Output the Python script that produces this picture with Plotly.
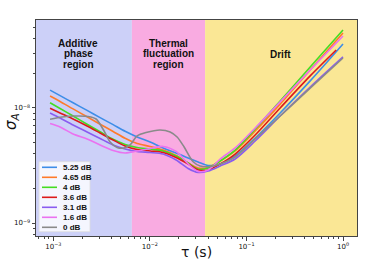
import numpy as np
import plotly.graph_objects as go

# ---------------- data ----------------
tau = [9.24e-4, 1.173e-3, 1.600e-3, 2.234e-3, 3.048e-3, 4.157e-3, 5.534e-3, 7.370e-3,
       1.005e-2, 1.370e-2, 1.868e-2, 2.488e-2, 3.159e-2, 4.009e-2, 5.339e-2, 7.635e-2,
       0.1231, 0.2234, 0.4571, 1.0]
tau_red = tau[:-1] + [0.85]
tau_gray = [9.24e-4, 1.231e-3, 1.686e-3, 2.288e-3, 2.770e-3, 3.352e-3, 3.869e-3, 4.572e-3,
            5.401e-3, 6.234e-3, 7.370e-3, 9.134e-3, 1.275e-2, 1.620e-2, 1.913e-2, 2.262e-2,
            2.804e-2, 3.313e-2, 4.205e-2, 5.339e-2, 7.635e-2, 0.1231, 0.2234, 0.4571, 1.0]

sig_525 = [1.43e-8, 1.28e-8, 1.11e-8, 9.53e-9, 8.25e-9, 7.16e-9, 6.27e-9, 5.60e-9,
           5.06e-9, 4.49e-9, 4.06e-9, 3.67e-9, 3.39e-9, 3.16e-9, 3.26e-9, 3.83e-9,
           5.48e-9, 9.05e-9, 1.72e-8, 3.60e-8]
sig_465 = [1.27e-8, 1.14e-8, 9.82e-9, 8.39e-9, 7.23e-9, 6.25e-9, 5.45e-9, 4.91e-9,
           4.63e-9, 4.31e-9, 3.86e-9, 3.32e-9, 3.01e-9, 3.04e-9, 3.46e-9, 4.23e-9,
           6.31e-9, 1.08e-8, 2.14e-8, 4.49e-8]
sig_4 = [1.11e-8, 9.90e-9, 8.52e-9, 7.23e-9, 6.21e-9, 5.34e-9, 4.82e-9, 4.54e-9,
         4.40e-9, 4.23e-9, 3.83e-9, 3.32e-9, 2.95e-9, 3.01e-9, 3.46e-9, 4.31e-9,
         6.57e-9, 1.15e-8, 2.27e-8, 4.77e-8]
sig_36 = [9.94e-9, 9.05e-9, 8.02e-9, 6.97e-9, 6.06e-9, 5.27e-9, 4.67e-9, 4.36e-9,
          4.23e-9, 4.10e-9, 3.71e-9, 3.26e-9, 2.89e-9, 2.89e-9, 3.26e-9, 3.98e-9,
          5.82e-9, 1.00e-8, 1.90e-8, 3.19e-8]
sig_31 = [9.05e-9, 8.18e-9, 7.12e-9, 6.19e-9, 5.43e-9, 4.77e-9, 4.40e-9, 4.19e-9,
          4.10e-9, 3.98e-9, 3.53e-9, 2.98e-9, 2.75e-9, 2.83e-9, 3.13e-9, 3.60e-9,
          5.16e-9, 8.52e-9, 1.52e-8, 2.78e-8]
sig_16 = [7.33e-9, 6.84e-9, 5.94e-9, 5.38e-9, 4.77e-9, 4.27e-9, 4.06e-9, 4.23e-9,
          4.44e-9, 4.63e-9, 4.19e-9, 3.26e-9, 2.81e-9, 2.89e-9, 3.60e-9, 4.49e-9,
          6.70e-9, 1.13e-8, 2.14e-8, 4.23e-8]
sig_0 = [7.98e-9, 8.35e-9, 8.52e-9, 8.44e-9, 8.02e-9, 6.31e-9, 5.06e-9, 4.54e-9,
         4.49e-9, 4.77e-9, 5.71e-9, 6.12e-9, 6.44e-9, 6.19e-9, 5.60e-9, 4.58e-9,
         3.41e-9, 3.13e-9, 3.10e-9, 3.26e-9, 3.75e-9, 5.38e-9, 8.52e-9, 1.49e-8, 2.72e-8]

labels = ["5.25 dB", "4.65 dB", "4 dB", "3.6 dB", "3.1 dB", "1.6 dB", "0 dB"]
colors = ["#3d8de8", "#ff7a2a", "#44dd22", "#dd1a1a", "#8a5cf0", "#ea72f0", "#8a8a8a"]
series_x = [tau, tau, tau, tau_red, tau, tau, tau_gray]
series_y = [sig_525, sig_465, sig_4, sig_36, sig_31, sig_16, sig_0]

# region boundaries (s)
region_edges = [10 ** -3.18, 0.0065, 0.0373, 10 ** 0.145]
region_colors = ["#ccd0f8", "#f9abe1", "#fae795"]
region_labels = [["Additive", "phase", "region"], ["Thermal", "fluctuation", "region"], ["Drift"]]
region_label_x = [0.0018, 0.01545, 0.224]

x_ticks = [1e-3, 1e-2, 1e-1, 1e0]
x_ticktext = ["10<sup>−3</sup>", "10<sup>−2</sup>", "10<sup>−1</sup>", "10<sup>0</sup>"]
y_ticks = [1e-9, 1e-8]
y_ticktext = ["10<sup>−9</sup>", "10<sup>−8</sup>"]

# ---------------- figure ----------------
fig = go.Figure()
for xs, ys, lab, col in zip(series_x, series_y, labels, colors):
    fig.add_trace(go.Scatter(x=xs, y=ys, mode="lines", name=lab,
                             line=dict(color=col, width=1.6, shape="spline", smoothing=0.8),
                             showlegend=False))

shapes = []
for i in range(3):
    shapes.append(dict(type="rect", xref="x", yref="paper", x0=region_edges[i], x1=region_edges[i + 1],
                       y0=0, y1=1, fillcolor=region_colors[i], line=dict(width=0), layer="below"))

annotations = []
FONT = "Liberation Sans, Arial, sans-serif"
line_y = [0.8935, 0.8426, 0.7917]
for lines, xc in zip(region_labels, region_label_x):
    ys = [0.838] if len(lines) == 1 else line_y
    for t, yy in zip(lines, ys):
        annotations.append(dict(x=np.log10(xc), y=yy, xref="x", yref="paper", text="<b>%s</b>" % t,
                                showarrow=False, font=dict(family=FONT, size=10, color="#111"),
                                xanchor="center", yanchor="middle"))

# compact legend box (paper coordinates)
W, H, L, T = 321.0, 216.0, 36.0, 20.0
def px(x): return (x - L) / W
def py(y): return (H + T - y) / H
shapes.append(dict(type="rect", xref="paper", yref="paper", x0=px(39), x1=px(90), y0=py(231.7), y1=py(161.7),
                   fillcolor="rgba(255,255,255,0.8)", line=dict(color="#dddddd", width=0.8)))
for i, (lab, col) in enumerate(zip(labels, colors)):
    yy = py(167.3 + 10 * i)
    shapes.append(dict(type="line", xref="paper", yref="paper", x0=px(42), x1=px(57), y0=yy, y1=yy,
                       line=dict(color=col, width=1.6)))
    annotations.append(dict(x=px(61), y=yy, xref="paper", yref="paper", text="<b>%s</b>" % lab,
                            showarrow=False, xanchor="left", yanchor="middle",
                            font=dict(family=FONT, size=8, color="#111")))

# axis titles as annotations so the plot area stays fixed
annotations.append(dict(x=px(196), y=py(252), xref="paper", yref="paper", text="τ (s)", showarrow=False,
                        xanchor="center", yanchor="middle",
                        font=dict(size=14, family="DejaVu Sans", color="#111")))
annotations.append(dict(x=px(11), y=py(122), xref="paper", yref="paper", text="<i>σ<sub>A</sub></i>",
                        showarrow=False, textangle=-90, xanchor="center", yanchor="middle",
                        font=dict(size=15, family="DejaVu Sans", color="#111")))

minor_y = [m * 10.0 ** e for e in (-10, -9, -8) for m in range(2, 10)]
minor_x = [m * 10.0 ** e for e in (-4, -3, -2, -1, 0) for m in range(2, 10)]

fig.update_layout(
    width=382, height=268,
    margin=dict(l=36, r=25, t=20, b=32, autoexpand=False),
    paper_bgcolor="white", plot_bgcolor="white",
    shapes=shapes, annotations=annotations,
    showlegend=False,
    font=dict(family="DejaVu Sans", color="#111"),
)
axis_common = dict(showline=True, mirror=True, linecolor="#444", linewidth=1, showgrid=False,
                   ticks="outside", ticklen=3.5, tickwidth=0.8, tickcolor="#444", zeroline=False,
                   automargin=False)
fig.update_xaxes(type="log", range=[-3.18, 0.145], tickvals=x_ticks, ticktext=x_ticktext,
                 tickfont=dict(size=7, family="DejaVu Sans", color="#111"),
                 minor=dict(ticks="outside", ticklen=2, tickwidth=0.6, tickcolor="#444", tickvals=minor_x),
                 **axis_common)
fig.update_yaxes(type="log", range=[-9.113, -7.235], tickvals=y_ticks, ticktext=y_ticktext,
                 tickfont=dict(size=7, family="DejaVu Sans", color="#111"),
                 minor=dict(ticks="outside", ticklen=2, tickwidth=0.6, tickcolor="#444", tickvals=minor_y),
                 **axis_common)

fig.write_html("out.html", config={"displayModeBar": False},
               post_script="document.body.style.margin='0';")
